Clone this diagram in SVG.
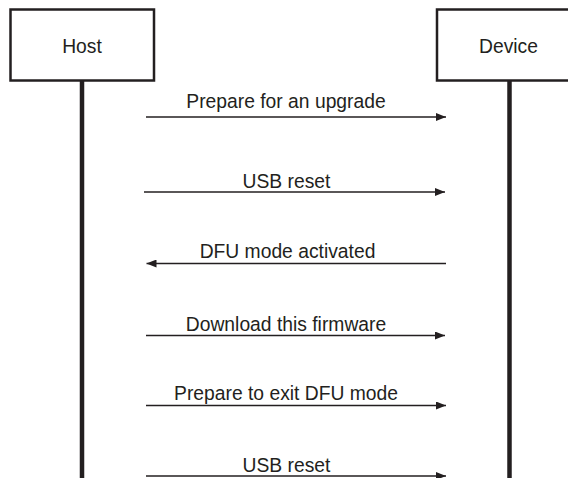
<svg xmlns="http://www.w3.org/2000/svg" width="568" height="478" viewBox="0 0 568 478">
<defs>
<style>
.box{fill:#fff;stroke:#231f20;stroke-width:2.5}
.life{stroke:#231f20;stroke-width:4.5}
.msg{stroke:#231f20;stroke-width:1.3;fill:none}
text{font-family:"Liberation Sans",Arial,sans-serif;font-size:19.3px;fill:#231f20;text-anchor:middle}
</style>
<marker id="ah" viewBox="0 0 10 8" refX="10" refY="4" markerWidth="10" markerHeight="8" markerUnits="userSpaceOnUse" orient="auto">
<path d="M0,0 L10,4 L0,8 Z" fill="#231f20"/>
</marker>
</defs>
<rect width="568" height="478" fill="#fff"/>
<g id="lifelines">
<line class="life" x1="82" y1="81" x2="82" y2="478"/>
<line class="life" x1="509.5" y1="81" x2="509.5" y2="478"/>
</g>
<g id="host">
<rect class="box" x="10.5" y="9.5" width="143.5" height="71"/>
<text x="82" y="53">Host</text>
</g>
<g id="device">
<rect class="box" x="437" y="9.5" width="145" height="71"/>
<text x="508.5" y="53">Device</text>
</g>
<g id="connectors">
<line class="msg" x1="146" y1="117" x2="446" y2="117" marker-end="url(#ah)"/>
<line class="msg" x1="144" y1="192" x2="445" y2="192" marker-end="url(#ah)"/>
<line class="msg" x1="446" y1="263.5" x2="146.5" y2="263.5" marker-end="url(#ah)"/>
<line class="msg" x1="146" y1="335.5" x2="445" y2="335.5" marker-end="url(#ah)"/>
<line class="msg" x1="146" y1="405.5" x2="446" y2="405.5" marker-end="url(#ah)"/>
<line class="msg" x1="146" y1="476" x2="446" y2="476" marker-end="url(#ah)"/>
</g>
<g id="labels">
<text x="286" y="108">Prepare for an upgrade</text>
<text x="286.5" y="188">USB reset</text>
<text x="287.5" y="257.5">DFU mode activated</text>
<text x="286" y="330.5">Download this firmware</text>
<text x="286" y="400">Prepare to exit DFU mode</text>
<text x="286.5" y="471.5">USB reset</text>
</g>
</svg>
